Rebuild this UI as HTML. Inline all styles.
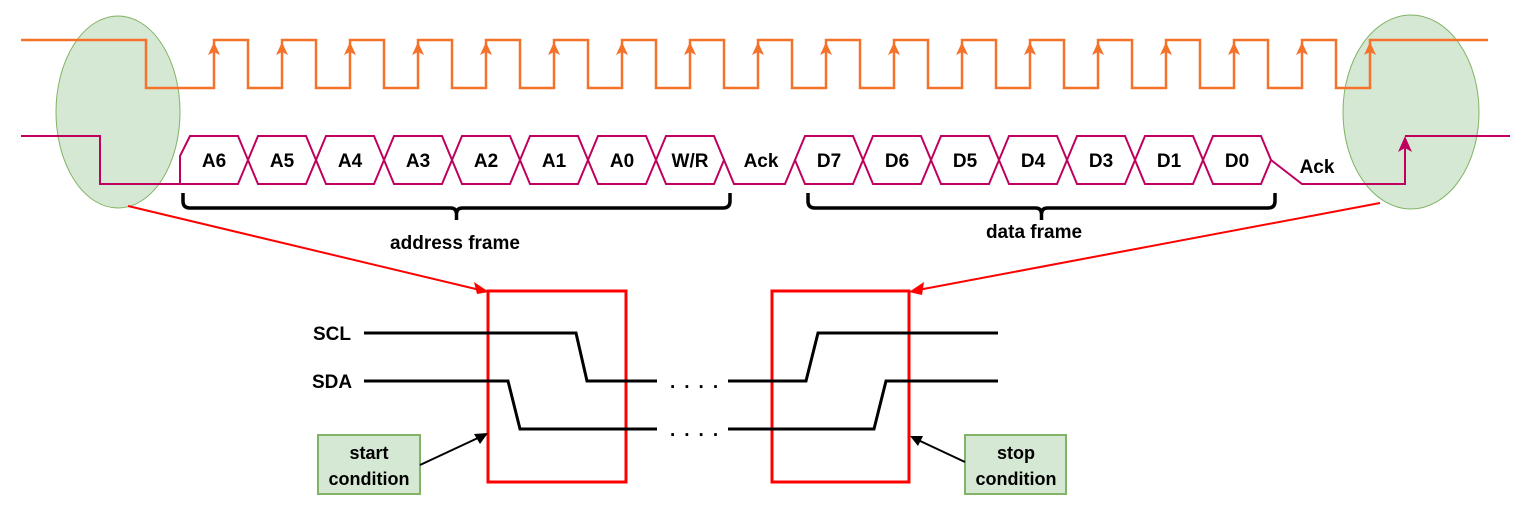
<!DOCTYPE html>
<html><head><meta charset="utf-8"><style>
html,body{margin:0;padding:0;background:#fff;width:1522px;height:509px;overflow:hidden}
svg{display:block;font-family:"Liberation Sans",sans-serif;font-weight:bold}
</style></head><body>
<svg id="s" width="1522" height="509" viewBox="0 0 1522 509">
<ellipse cx="118" cy="112" rx="62" ry="96" fill="#d5e8d4" stroke="#82b366" stroke-width="1"/>
<ellipse cx="1411" cy="112" rx="68" ry="97" fill="#d5e8d4" stroke="#82b366" stroke-width="1"/>
<g id="scl"></g>
<g id="sda"></g>
<g id="br"></g>
<text x="455" y="249" font-size="19" text-anchor="middle">address frame</text>
<text x="1034" y="238" font-size="19" text-anchor="middle">data frame</text>
<line x1="128" y1="206" x2="480" y2="290" stroke="#ff0000" stroke-width="2"/>
<path d="M489,292 L474,282 L477,294 Z" fill="#ff0000"/>
<line x1="1380" y1="203" x2="918" y2="290" stroke="#ff0000" stroke-width="2"/>
<path d="M909,292 L924,282 L922,295 Z" fill="#ff0000"/>
<rect x="488" y="291" width="138" height="191" fill="none" stroke="#ff0000" stroke-width="3"/>
<rect x="772" y="291" width="137" height="191" fill="none" stroke="#ff0000" stroke-width="3"/>
<text x="332" y="340" font-size="19" text-anchor="middle">SCL</text>
<text x="332" y="388" font-size="19" text-anchor="middle">SDA</text>
<g fill="none" stroke="#000" stroke-width="3">
<path d="M364,333 H576 L587,381 H657"/>
<path d="M364,381 H508 L520,429 H657"/>
<path d="M728,381 H806 L818,333 H998"/>
<path d="M728,429 H874 L886,381 H998"/>
</g>
<text x="670" y="388" font-size="19" letter-spacing="9">....</text>
<text x="670" y="436" font-size="19" letter-spacing="9">....</text>
<rect x="318" y="435" width="102" height="59" fill="#d5e8d4" stroke="#82b366" stroke-width="2"/>
<text x="369" y="459" font-size="18" text-anchor="middle">start</text>
<text x="369" y="485" font-size="18" text-anchor="middle">condition</text>
<rect x="965" y="435" width="101" height="59" fill="#d5e8d4" stroke="#82b366" stroke-width="2"/>
<text x="1016" y="459" font-size="18" text-anchor="middle">stop</text>
<text x="1016" y="485" font-size="18" text-anchor="middle">condition</text>
<line x1="420" y1="465" x2="480" y2="437" stroke="#000" stroke-width="2"/>
<path d="M488,433 L474,434 L480,444 Z" fill="#000"/>
<line x1="965" y1="462" x2="918" y2="440" stroke="#000" stroke-width="2"/>
<path d="M910,436 L918,446 L923,436 Z" fill="#000"/>
</svg>
<script>
const sclRises=[214,282,350,418,486,554,622,690,758,826,894,962,1030,1098,1166,1234,1302,1370];
const addrBits=["A6","A5","A4","A3","A2","A1","A0","W/R"];
const dataBits=["D7","D6","D5","D4","D3","D1","D0"];
const NS="http://www.w3.org/2000/svg";
function mk(tag,attrs,parent){const e=document.createElementNS(NS,tag);for(const k in attrs)e.setAttribute(k,attrs[k]);parent.appendChild(e);return e;}
const scl=document.getElementById('scl'),sda=document.getElementById('sda'),br=document.getElementById('br');
const HI=40,LO=88,half=34;
let d="M21,"+HI+" H146 V"+LO;
sclRises.forEach((x,i)=>{d+=" H"+x+" V"+HI;if(i<sclRises.length-1)d+=" H"+(x+half)+" V"+LO;});
d+=" H1488";
const p=mk('path',{d:d,fill:'none',stroke:'#f5722a','stroke-width':2.5},scl);


sclRises.forEach(x=>{const a=mk('path',{d:`M${x},${HI+2} L${x-6},${HI+15} L${x},${HI+12} L${x+6},${HI+15} Z`,fill:'#f5722a'},scl);

});
const C="#c0005f",T=136,B=184,M=160,W=68,bev=10;
function hexes(start,bits,first){
  bits.forEach((b,i)=>{const x0=start+i*W,x1=x0+W;
    let pd;
    if(first&&i===0) pd=`M${x1},${M} L${x1-bev},${T} H${x0+bev} L${x0},${M-4} V${B} H${x1-bev} Z`;
    else pd=`M${x0},${M} L${x0+bev},${T} H${x1-bev} L${x1},${M} L${x1-bev},${B} H${x0+bev} Z`;
    const h=mk('path',{d:pd,fill:'none',stroke:C,'stroke-width':2},sda);
    
    
    const t=mk('text',{x:(x0+x1)/2,y:M+7,'font-size':19,'text-anchor':'middle'},sda);t.textContent=b;
    
    
  });
}
hexes(180,addrBits,true);
const addrEnd=180+addrBits.length*W;
hexes(795,dataBits,false);
const dataEnd=795+dataBits.length*W;
const l=mk('path',{d:`M21,${T} H100 V${B} H180 M${addrEnd},${M} L${addrEnd+10},${B} H${785} L795,${M} M${dataEnd},${M} L1302,${B} H1405 V${T+2} M1405,${T} H1510`,fill:'none',stroke:C,'stroke-width':2},sda);


const ar=mk('path',{d:`M1405,${T} L1398,${T+16} L1405,${T+12} L1412,${T+16} Z`,fill:C},sda);


[[761,167],[1317,173]].forEach(([x,y],i)=>{const t=mk('text',{x:x,y:y,'font-size':19,'text-anchor':'middle'},sda);t.textContent='Ack';

});
function brace(x0,x1,y){const c=(x0+x1)/2;
  const e=mk('path',{d:`M${x0},${y} V${y+8} Q${x0},${y+15} ${x0+7},${y+15} H${c-6} Q${c},${y+15} ${c},${y+21} V${y+27} M${c},${y+21} Q${c},${y+15} ${c+6},${y+15} H${x1-7} Q${x1},${y+15} ${x1},${y+8} V${y}`,fill:'none',stroke:'#000','stroke-width':3.5},br);
  
  }
brace(183,730,193);brace(808,1275,193);
</script>
</body></html>
